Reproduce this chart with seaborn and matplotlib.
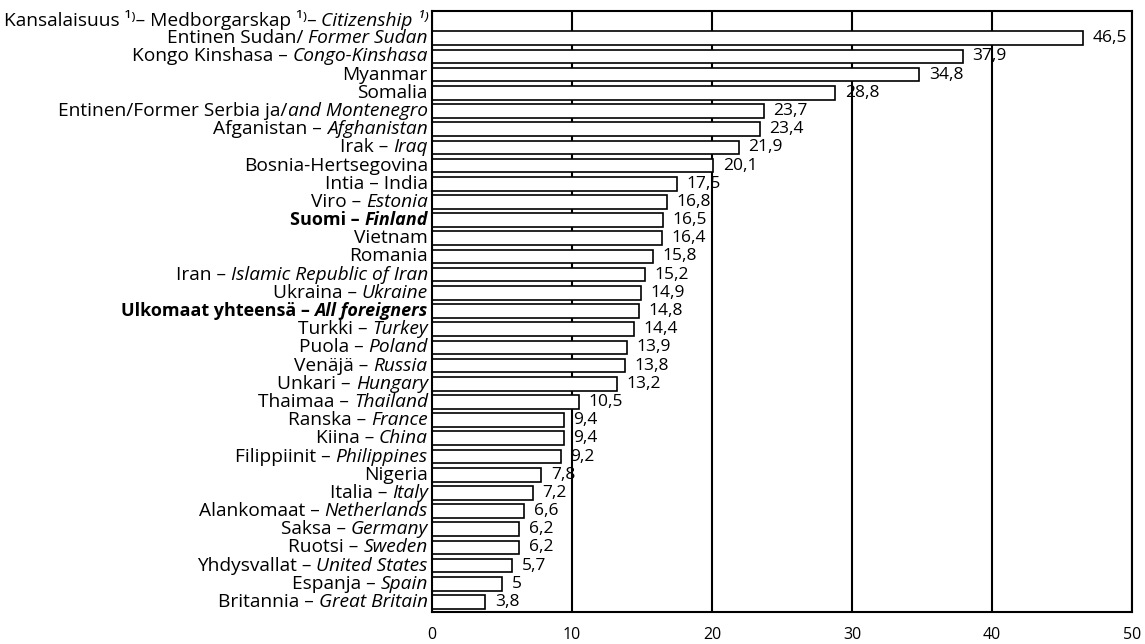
import matplotlib
matplotlib.use("Agg")
import matplotlib.pyplot as plt
import seaborn as sns
import pandas as pd

# data
fin_part = ["Entinen Sudan/ ", "Kongo Kinshasa – ", "Myanmar", "Somalia",
            "Entinen/Former Serbia ja/", "Afganistan – ", "Irak – ",
            "Bosnia-Hertsegovina", "Intia – India", "Viro – ", "Suomi – ",
            "Vietnam", "Romania", "Iran – ", "Ukraina – ",
            "Ulkomaat yhteensä – ", "Turkki – ", "Puola – ", "Venäjä – ",
            "Unkari – ", "Thaimaa – ", "Ranska – ", "Kiina – ",
            "Filippiinit – ", "Nigeria", "Italia – ", "Alankomaat – ",
            "Saksa – ", "Ruotsi – ", "Yhdysvallat – ", "Espanja – ",
            "Britannia – "]
eng_part = ["Former Sudan", "Congo-Kinshasa", "", "", "and Montenegro",
            "Afghanistan", "Iraq", "", "", "Estonia", "Finland", "", "",
            "Islamic Republic of Iran", "Ukraine", "All foreigners", "Turkey",
            "Poland", "Russia", "Hungary", "Thailand", "France", "China",
            "Philippines", "", "Italy", "Netherlands", "Germany", "Sweden",
            "United States", "Spain", "Great Britain"]
values = [46.5, 37.9, 34.8, 28.8, 23.7, 23.4, 21.9, 20.1, 17.5, 16.8, 16.5,
          16.4, 15.8, 15.2, 14.9, 14.8, 14.4, 13.9, 13.8, 13.2, 10.5, 9.4,
          9.4, 9.2, 7.8, 7.2, 6.6, 6.2, 6.2, 5.7, 5.0, 3.8]
bold_rows = ["Suomi – ", "Ulkomaat yhteensä – "]
header_fin = "Kansalaisuus ¹⁾– Medborgarskap ¹⁾– "
header_eng = "Citizenship ¹⁾"

df = pd.DataFrame({"key": [f + e for f, e in zip(fin_part, eng_part)],
                   "value": values})

sns.set_style("white")
plt.rcParams["font.family"] = ["Open Sans", "DejaVu Sans"]
plt.rcParams["text.color"] = "black"
plt.rcParams["xtick.color"] = "black"
plt.rcParams["xtick.labelcolor"] = "black"
FS = 13.8      # row labels
FS_BOLD = 13.0
FS_VAL = 12.5  # value labels

fig = plt.figure(figsize=(11.45, 6.44), dpi=100)
ax = fig.add_axes([0.3773, 0.0497, 0.9886 - 0.3773, 0.983 - 0.0497])

sns.barplot(data=df, x="value", y="key", orient="h", color="white",
            edgecolor="black", linewidth=1.2, width=0.75, ax=ax)

ax.set_xlim(0, 50)
ax.set_ylim(len(values) - 0.45, -1.5)
ax.set_xticks([0, 10, 20, 30, 40, 50])
ax.set_xticklabels(["0", "10", "20", "30", "40", "50"], fontsize=11.5)
ax.tick_params(axis="x", length=0, pad=11, labelcolor="black")
ax.set_yticks([])
ax.set_xlabel("")
ax.set_ylabel("")
ax.grid(axis="x", color="black", linewidth=1.5)
ax.set_axisbelow(True)
for s in ax.spines.values():
    s.set_visible(True)
    s.set_color("black")
    s.set_linewidth(1.5)

# value labels
lbls = [str(int(v)) if v == int(v) else f"{v:.1f}".replace(".", ",")
        for v in values]
ax.bar_label(ax.containers[0], labels=lbls, padding=7, fontsize=FS_VAL,
             color="black")

# row labels: regular finnish part + italic english part
tr = ax.get_yaxis_transform()
rows = [(-1, header_fin, header_eng, False)] + [
    (i, f, e, f in bold_rows) for i, (f, e) in enumerate(zip(fin_part, eng_part))]
for y, f, e, bold in rows:
    w = "bold" if bold else "normal"
    fs = FS_BOLD if bold else FS
    if e:
        t = ax.text(-0.006, y, e, transform=tr, ha="right", va="center",
                    fontsize=fs, style="italic", fontweight=w, color="black")
        ax.annotate(f, xy=(0, 0), xycoords=t, ha="right", va="bottom",
                    fontsize=fs, fontweight=w, color="black")
    else:
        ax.text(-0.006, y, f, transform=tr, ha="right", va="center",
                fontsize=fs, fontweight=w, color="black")

fig.savefig("out.png", dpi=100)
